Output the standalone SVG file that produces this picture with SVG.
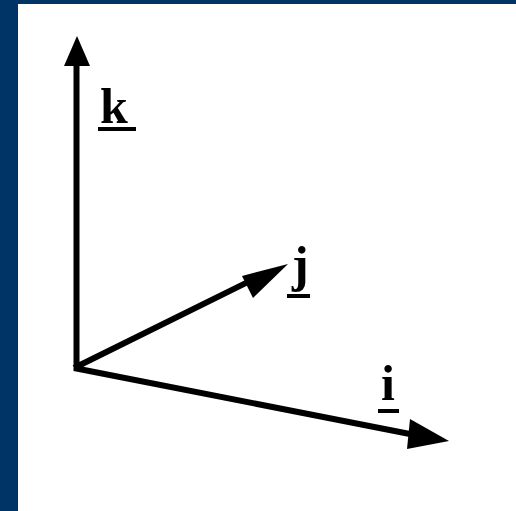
<svg xmlns="http://www.w3.org/2000/svg" width="516" height="511" viewBox="0 0 516 511">
<style>
.ax{stroke:#000;stroke-width:6;fill:none}
.hd{fill:#000}
.lb{font-family:"Liberation Serif","Times New Roman",serif;font-weight:bold;font-size:50px;fill:#000}
.ul{fill:#000}
</style>
<rect x="0" y="0" width="516" height="511" fill="#ffffff"/>
<rect x="0" y="0" width="516" height="4" fill="#003366"/>
<rect x="0" y="0" width="18" height="511" fill="#003366"/>
<g id="connectors">
<path class="ax" d="M76.5,371 L76.5,64 M74,368 L258,277 M74,368 L415,435"/>
<polygon class="hd" points="77,36 64,66 90,66"/>
<polygon class="hd" points="288,264 242,276 253,298"/>
<polygon class="hd" points="449,441 410,419 407,449"/>
</g>
<g id="k">
<text class="lb" x="100" y="123">k</text>
<rect class="ul" x="98" y="127" width="38" height="4"/>
</g>
<g id="j">
<text class="lb" x="292" y="281">j</text>
<rect class="ul" x="287" y="294" width="23" height="4"/>
</g>
<g id="i">
<text class="lb" x="381" y="400">i</text>
<rect class="ul" x="378" y="409" width="21" height="4"/>
</g>
</svg>
